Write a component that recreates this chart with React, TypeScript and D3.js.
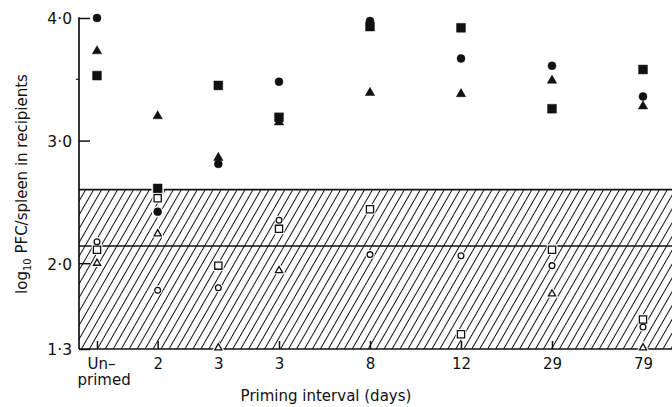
import React, { useEffect, useRef } from 'react';
import * as d3 from 'd3';

// --- Data ---
const categories = ['Un–primed', '2', '3', '3', '8', '12', '29', '79'];
// uneven spacing of the categories along the x axis
const categorySlots = [0, 1, 2, 3, 4.5, 6, 7.5, 9];

const filledCircle = [4.0, 2.42, 2.81, 3.48, 3.975, 3.67, 3.61, 3.36];
const filledTriangle = [3.73, 3.2, 2.86, 3.15, 3.39, 3.38, 3.49, 3.28];
const filledSquare = [3.53, 2.61, 3.45, 3.19, 3.93, 3.92, 3.26, 3.58];
const openCircle = [2.175, 1.78, 1.8, 2.35, 2.07, 2.06, 1.98, 1.48];
const openSquare = [2.11, 2.53, 1.98, 2.28, 2.44, 1.42, 2.11, 1.54];
const openTriangle = [2.0, 2.24, 1.31, 1.94, null, null, 1.75, 1.31];

const yTickValues = [4.0, 3.0, 2.0, 1.3];
const yMinorTicks = [3.5];
const bandTop = 2.6;
const bandLine = 2.14;

const fmtTick = (d: number) => d3.format('.1f')(d).replace('.', '·');

const W = 672;
const H = 407;
const FONT = '"DejaVu Sans", sans-serif';

export default function App() {
  const ref = useRef<SVGSVGElement>(null);

  useEffect(() => {
    if (!ref.current) return;
    const svg = d3.select(ref.current);
    svg.selectAll('*').remove();

    const x = d3.scaleLinear().domain([0, 9]).range([97, 643]);
    const y = d3.scaleLinear().domain([1.3, 4.0]).range([349, 18]);
    const x0 = 79;

    const defs = svg.append('defs');
    const pat = defs.append('pattern')
      .attr('id', 'hatch')
      .attr('patternUnits', 'userSpaceOnUse')
      .attr('width', 6.9).attr('height', 10)
      .attr('patternTransform', 'rotate(30)');
    pat.append('line')
      .attr('x1', 3.45).attr('x2', 3.45).attr('y1', 0).attr('y2', 10)
      .attr('stroke', '#111').attr('stroke-width', 1);

    // hatched band
    svg.append('rect')
      .attr('x', x0).attr('y', y(bandTop))
      .attr('width', W - x0).attr('height', y(1.3) - y(bandTop))
      .attr('fill', 'url(#hatch)');

    const lines = svg.append('g').attr('stroke', '#111').attr('stroke-width', 1.7);
    lines.append('line').attr('x1', x0).attr('x2', W).attr('y1', y(bandTop)).attr('y2', y(bandTop));
    lines.append('line').attr('x1', x0).attr('x2', W).attr('y1', y(bandLine)).attr('y2', y(bandLine));

    // y axis
    const yAxis = d3.axisLeft(y).tickValues(yTickValues).tickSize(-11).tickPadding(7).tickFormat(d => fmtTick(+d));
    const gy = svg.append('g').attr('transform', `translate(${x0},0)`).call(yAxis);
    gy.select('.domain').remove();
    gy.selectAll('.tick line').attr('stroke', '#111').attr('stroke-width', 1.5);
    gy.selectAll('.tick text').attr('fill', '#111').style('font-family', FONT).style('font-size', '15.5px').attr('dy', '0.38em');
    lines.append('line').attr('x1', x0).attr('x2', x0).attr('y1', y(4.0) - 0.8).attr('y2', y(1.3));
    yMinorTicks.forEach(t => {
      lines.append('line').attr('x1', x0 - 3).attr('x2', x0).attr('y1', y(t)).attr('y2', y(t)).attr('stroke-width', 1.2);
    });

    // x axis
    const xAxis = d3.axisBottom(x).tickValues(categorySlots).tickSize(-8).tickPadding(9)
      .tickFormat((d, i) => categories[i]);
    const gx = svg.append('g').attr('transform', `translate(0,${y(1.3)})`).call(xAxis);
    gx.select('.domain').remove();
    gx.selectAll('.tick line').attr('stroke', '#111').attr('stroke-width', 1.5);
    gx.selectAll('.tick text').attr('fill', '#111').style('font-family', FONT).style('font-size', '15px');
    gx.selectAll<SVGTextElement, number>('.tick text').filter((d, i) => i === 0).each(function () {
      const t = d3.select(this);
      const parts = categories[0].split('–');
      t.text(null).attr('text-anchor', 'start');
      t.append('tspan').attr('x', -10).text(parts[0] + '–');
      t.append('tspan').attr('x', -20).attr('dy', '1.08em').text(parts[1]);
    });
    lines.append('line').attr('x1', x0).attr('x2', W).attr('y1', y(1.3)).attr('y2', y(1.3));

    // markers
    const series = [
      { values: filledSquare, type: d3.symbolSquare, size: 78, filled: true },
      { values: filledCircle, type: d3.symbolCircle, size: 50, filled: true },
      { values: filledTriangle, type: d3.symbolTriangle, size: 38, filled: true },
      { values: openSquare, type: d3.symbolSquare, size: 52, filled: false },
      { values: openCircle, type: d3.symbolCircle, size: 26, filled: false },
      { values: openTriangle, type: d3.symbolTriangle, size: 22, filled: false },
    ];

    const pts = series.flatMap(s =>
      s.values.map((v, i) => ({ v, i, s })).filter(p => p.v !== null)
    );

    const halo = svg.append('g');
    const marks = svg.append('g');
    pts.forEach(p => {
      const d = d3.symbol(p.s.type, p.s.size)();
      const tr = `translate(${x(categorySlots[p.i])},${y(p.v as number)})`;
      halo.append('path').attr('d', d).attr('transform', tr)
        .attr('fill', '#fff').attr('stroke', '#fff').attr('stroke-width', 3.5);
      marks.append('path').attr('d', d).attr('transform', tr)
        .attr('fill', p.s.filled ? '#111' : '#fff')
        .attr('stroke', '#111').attr('stroke-width', p.s.filled ? 0.5 : 1.3);
    });

    // axis titles
    const yTitle = svg.append('text')
      .attr('transform', `translate(27,184) rotate(-90)`)
      .attr('text-anchor', 'middle')
      .style('font-family', FONT).style('font-size', '15px').attr('fill', '#111');
    yTitle.append('tspan').text('log');
    yTitle.append('tspan').attr('dy', 4).style('font-size', '10px').text('10');
    yTitle.append('tspan').attr('dy', -4).text(' PFC/spleen in recipients');

    svg.append('text')
      .attr('x', 326).attr('y', 401)
      .attr('text-anchor', 'middle')
      .style('font-family', FONT).style('font-size', '15px').attr('fill', '#111')
      .text('Priming interval (days)');
  }, []);

  return (
    <svg
      ref={ref}
      width={W}
      height={H}
      style={{ position: 'absolute', left: 0, top: 0, background: '#fff' }}
    />
  );
}
